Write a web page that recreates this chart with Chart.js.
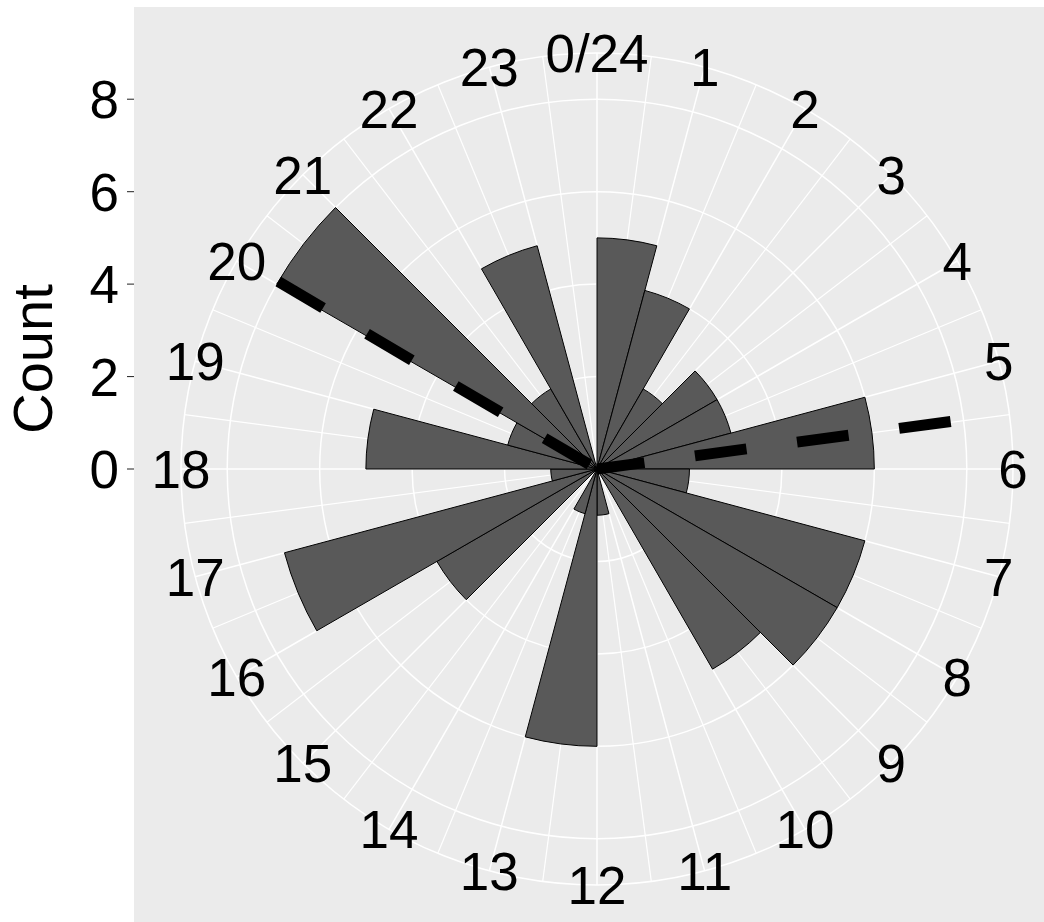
<!DOCTYPE html>
<html lang="en">
<head>
  <meta charset="UTF-8">
  <title>Counts by hour</title>
  <script src="https://cdn.jsdelivr.net/npm/chart.js@4.4.0/dist/chart.umd.min.js"></script>
  <style>
    html, body { margin: 0; padding: 0; background: #ffffff; }
  </style>
</head>
<body>
  <canvas id="rose" width="1044" height="922"></canvas>

  <script>
    // hour bins, clockwise from the top
    const hourLabels = ['0/24', '1', '2', '3', '4', '5', '6', '7', '8', '9', '10', '11',
      '12', '13', '14', '15', '16', '17', '18', '19', '20', '21', '22', '23'];
    const counts = [5, 4, 2, 3, 3, 6, 2, 6, 6, 5, 0, 1, 6, 1, 0, 4, 7, 1, 5, 2, 8, 2, 5, 0];

    // left axis ticks, and the outer ring value
    const countTicks = [0, 2, 4, 6, 8];
    const outerValue = 9;

    // dashed lines from the centre: direction in hours, length in counts
    const dashHours = [20.03, 5.49];
    const dashLengths = [8, 7.72];

    const FONT = "'Liberation Sans', Arial, sans-serif";

    const ggDecor = {
      id: 'ggDecor',
      beforeDraw(chart) {
        const ctx = chart.ctx;
        ctx.save();
        ctx.fillStyle = '#ffffff';
        ctx.fillRect(0, 0, chart.width, chart.height);
        ctx.fillStyle = '#EBEBEB';
        ctx.fillRect(134, 7, chart.width - 134, chart.height - 7);
        ctx.restore();
      },
      beforeDatasetsDraw(chart) {
        // minor spokes at the half hours
        const r = chart.scales.r;
        const ctx = chart.ctx;
        ctx.save();
        ctx.strokeStyle = '#ffffff';
        ctx.lineWidth = 1.2;
        for (let i = 0; i < hourLabels.length; i++) {
          const p = r.getPointPosition(i + 0.5, r.drawingArea);
          ctx.beginPath();
          ctx.moveTo(r.xCenter, r.yCenter);
          ctx.lineTo(p.x, p.y);
          ctx.stroke();
        }
        ctx.restore();
      },
      afterDatasetsDraw(chart) {
        // dashes start at the outer end, like the original
        const r = chart.scales.r;
        const ctx = chart.ctx;
        ctx.save();
        ctx.strokeStyle = '#000000';
        ctx.lineWidth = 11;
        ctx.lineCap = 'butt';
        ctx.setLineDash([52, 51]);
        for (let k = 0; k < dashHours.length; k++) {
          const p = r.getPointPositionForValue(dashHours[k], dashLengths[k]);
          ctx.beginPath();
          ctx.moveTo(p.x, p.y);
          ctx.lineTo(r.xCenter, r.yCenter);
          ctx.stroke();
        }
        ctx.restore();
      },
      afterDraw(chart) {
        const r = chart.scales.r;
        const ctx = chart.ctx;
        ctx.save();

        // hour labels sit on the outer ring
        ctx.fillStyle = '#000000';
        ctx.font = '53px ' + FONT;
        ctx.textAlign = 'center';
        ctx.textBaseline = 'alphabetic';
        hourLabels.forEach((lab, i) => {
          const p = r.getPointPosition(i, r.drawingArea);
          ctx.fillText(lab, p.x, p.y + 53 * 0.358);
        });

        // left count axis
        ctx.textAlign = 'right';
        ctx.strokeStyle = '#333333';
        ctx.lineWidth = 1.1;
        countTicks.forEach(v => {
          const y = r.yCenter - r.getDistanceFromCenterForValue(v);
          ctx.beginPath();
          ctx.moveTo(127, y);
          ctx.lineTo(134, y);
          ctx.stroke();
          ctx.fillText(String(v), 119, y + 53 * 0.358);
        });

        // axis title
        ctx.translate(52, 359);
        ctx.rotate(-Math.PI / 2);
        ctx.font = '56px ' + FONT;
        ctx.textAlign = 'center';
        ctx.fillText('Count', 0, 0);
        ctx.restore();
      }
    };

    const ctx = document.getElementById('rose').getContext('2d');
    const roseChart = new Chart(ctx, {
      type: 'polarArea',
      data: {
        labels: hourLabels,
        datasets: [{
          label: 'Count',
          data: counts,
          backgroundColor: '#595959',
          borderColor: '#000000',
          borderWidth: 1
        }]
      },
      options: {
        responsive: false,
        animation: false,
        devicePixelRatio: 1,
        layout: { padding: { left: 181, right: 31, top: 53, bottom: 37 } },
        plugins: {
          legend: { display: false },
          tooltip: { enabled: false }
        },
        scales: {
          r: {
            min: 0,
            max: outerValue,
            startAngle: 0,
            afterBuildTicks: (scale) => {
              scale.ticks = countTicks.concat([outerValue]).map(v => ({ value: v }));
            },
            ticks: { display: false },
            pointLabels: { display: false },
            grid: { circular: true, color: '#ffffff', lineWidth: 1.5 },
            angleLines: { display: true, color: '#ffffff', lineWidth: 1.5 }
          }
        }
      },
      plugins: [ggDecor]
    });
  </script>
</body>
</html>
